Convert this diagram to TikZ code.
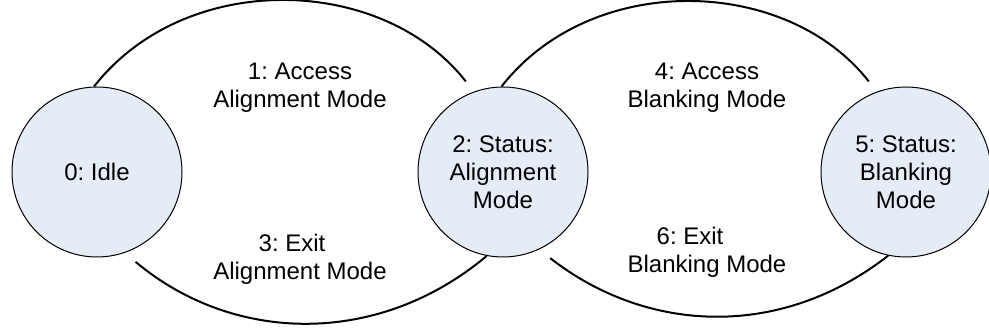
\documentclass[tikz,border=0pt]{standalone}
\usepackage{fontspec}
\setmainfont{Liberation Sans}
\frenchspacing
\definecolor{modefill}{RGB}{230,236,246}
\tikzset{
	modecircle/.style={circle, draw, line width=0.5pt, fill=modefill, minimum size=85pt, inner sep=0pt, align=center, font=\fontsize{12}{14}\selectfont},
	transline/.style={line width=1pt},
	translabel/.style={align=center, font=\fontsize{12}{14}\selectfont},
}
\begin{document}
\begin{tikzpicture}[x=0.5pt,y=0.5pt]
			\useasboundingbox (0,0) rectangle (989,330);
			\node[modecircle] (idle) at (97,158) {0: Idle};
			\node[modecircle] (align) at (503,158) {2: Status:\\Alignment\\Mode};
			\node[modecircle] (blank) at (906,158) {5: Status:\\Blanking\\Mode};
			% transitions
			\draw[transline, shorten >=6.5pt] (idle.92) to[out=52,in=128] (align.110);
			\draw[transline, shorten <=7pt] (idle.289) to[out=-40,in=-140] (align.259);
			\draw[transline, shorten >=6.5pt] (align.91) to[out=52,in=128] (blank.110);
			\draw[transline, shorten <=7pt] (align.295) to[out=-38,in=-142] (blank.258);
			% labels
			\node[translabel] (acc1) at (300,242) {1: Access\\Alignment Mode};
			\node[translabel] (exit3) at (300,71) {3: Exit\hspace*{8pt}\\Alignment Mode};
			\node[translabel] (acc4) at (707,242) {4: Access\\Blanking Mode};
			\node[translabel] (exit6) at (707,78) {6: Exit\hspace*{17pt}\\Blanking Mode};
		\end{tikzpicture}
\end{document}
